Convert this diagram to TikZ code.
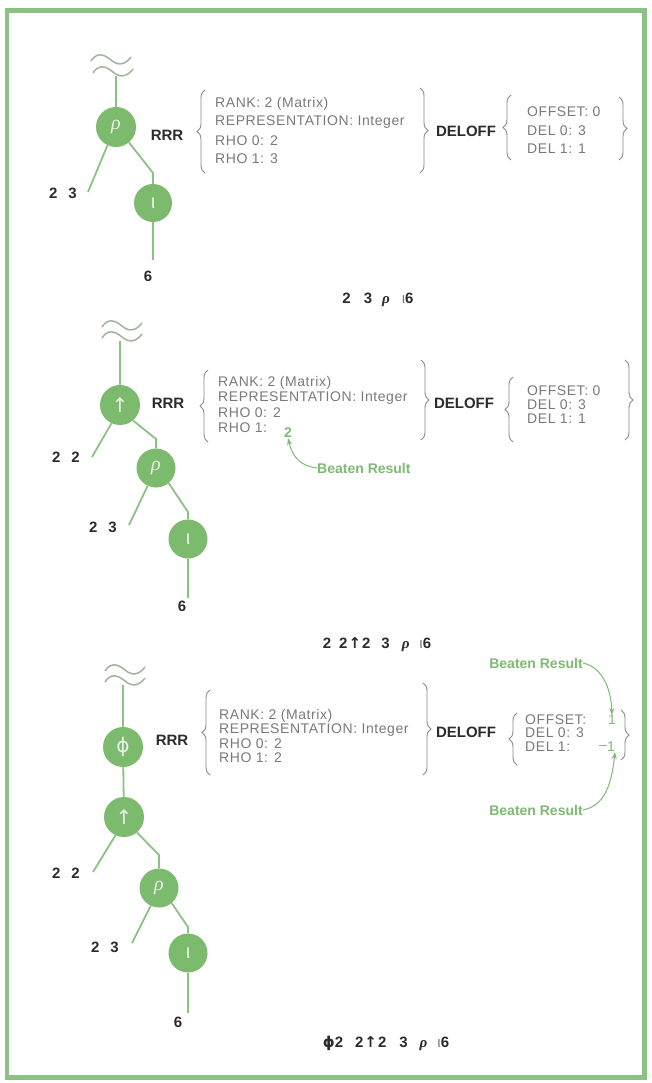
\documentclass[tikz,border=0pt]{standalone}
\usepackage{fontspec}
\setmainfont{Liberation Sans}
\newfontfamily\infofont[LetterSpace=4]{Liberation Sans}
\newfontfamily\symfont{DejaVu Sans}
\newfontfamily\serifit{Liberation Serif}
\usetikzlibrary{decorations.pathreplacing,arrows.meta,calc}
\definecolor{opgreen}{HTML}{7CBA6E}
\definecolor{lngreen}{HTML}{8CC283}
\definecolor{wavegray}{HTML}{A3B39C}
\definecolor{framegreen}{HTML}{8DC183}
\definecolor{beatgreen}{HTML}{7FBA73}
\definecolor{infogray}{HTML}{7A7A7A}
\definecolor{bracegray}{HTML}{8A8A8A}
\definecolor{darktext}{HTML}{2B2B2B}
\begin{document}
\begin{tikzpicture}[x=1pt,y=-1pt,
  op/.style={circle,fill=opgreen,minimum size=40pt,inner sep=0pt,text=white!82!opgreen,font=\fontsize{20}{20}\selectfont},
  link/.style={draw=lngreen,line width=1.8pt},
  lbl/.style={font=\bfseries\fontsize{15}{15}\selectfont,text=darktext,inner sep=0pt},
  info/.style={font=\infofont\fontsize{14}{14}\selectfont,text=infogray,anchor=west,inner sep=0pt},
  brc/.style={draw=bracegray,line width=0.9pt,decorate,decoration={brace,amplitude=8pt}},
  beat/.style={font=\bfseries\fontsize{14}{14}\selectfont,text=beatgreen,inner sep=0pt},
  beatval/.style={font=\fontsize{14}{14}\selectfont,text=beatgreen,inner sep=0pt},
  beatarrow/.style={draw=beatgreen,line width=1pt,-{Stealth[length=7pt,width=5pt]}},
  captxt/.style={font=\bfseries\fontsize{15}{15}\selectfont,text=darktext,inner sep=0pt},
  waves/.pic={\draw[draw=wavegray,line width=1.5pt] (0,0) .. controls (5,-8) and (12,-8) .. (20,-1) .. controls (27,5) and (34,4) .. (40,-4);}
]
\useasboundingbox (0,0) rectangle (651,1083);
\fill[white] (0,0) rectangle (651,1083);
\draw[framegreen,line width=4.5pt] (7,10.5) rectangle (644.5,1077.5);

% ---------------- Panel 1 ----------------
\pic at (91,61) {waves};
\pic at (93,73) {waves};
\coordinate (top1) at (116,76);
\node[op] (r1) at (116,127) {\serifit\itshape ρ};
\node[op,minimum size=38pt] (i1) at (153,203) {ι};
\coordinate (b1) at (153,173);
\coordinate (e1) at (88,192);
\coordinate (s1) at (153,260);
\draw[link] (top1) -- (r1);
\draw[link] (r1.-50) -- (b1) -- (i1);
\draw[link] (r1.-115) -- (e1);
\draw[link] (i1) -- (s1);
\node[lbl,anchor=east] (n1a) at (77,193) {2\hspace{11pt}3};
\node[lbl] (six1) at (148,276) {6};
\node[lbl] (rrr1) at (167,135) {RRR};
\draw[brc] (205,173) -- (205,90);
\node[info] (a1) at (215,104) {RANK: 2 (Matrix)};
\node[info] (a2) at (215,122) {REPRESENTATION: Integer};
\node[info] (a3) at (215,141) {RHO 0: 2};
\node[info] (a4) at (215,159) {RHO 1: 3};
\draw[brc] (420,88) -- (420,173);
\node[lbl] (del1) at (466,131) {DELOFF};
\draw[brc] (511,160) -- (511,95);
\node[info] (o1) at (527,112) {OFFSET: 0};
\node[info] (o2) at (527,131) {DEL 0: 3};
\node[info] (o3) at (527,149) {DEL 1: 1};
\draw[brc] (619,97) -- (619,160);
\node[captxt] (c1) at (378,300) {2\hspace{13pt}3\hspace{10pt}{\serifit\itshape ρ}\hspace{12pt}{\mdseries\color{infogray}ι}6};

% ---------------- Panel 2 ----------------
\pic at (102,327) {waves};
\pic at (102,338) {waves};
\coordinate (top2) at (120,341);
\node[op] (u2) at (120,405) {{\symfont ↑}};
\node[op,minimum size=39pt] (r2) at (156,468) {\serifit\itshape ρ};
\node[op,minimum size=39pt] (i2) at (188,539) {ι};
\coordinate (b2a) at (156,439);
\coordinate (b2b) at (188,512);
\coordinate (e2a) at (92,457);
\coordinate (e2b) at (129,525);
\coordinate (s2) at (188,598);
\draw[link] (top2) -- (u2);
\draw[link] (u2.-50) -- (b2a) -- (r2);
\draw[link] (r2.-50) -- (b2b) -- (i2);
\draw[link] (u2.-115) -- (e2a);
\draw[link] (r2.-115) -- (e2b);
\draw[link] (i2) -- (s2);
\node[lbl,anchor=east] (n2a) at (80,457) {2\hspace{11pt}2};
\node[lbl,anchor=east] (n2b) at (117,527) {2\hspace{11pt}3};
\node[lbl] (six2) at (182,606) {6};
\node[lbl] (rrr2) at (168,403) {RRR};
\draw[brc] (208,442) -- (208,370);
\node[info] (p1) at (218,383) {RANK: 2 (Matrix)};
\node[info] (p2) at (218,398) {REPRESENTATION: Integer};
\node[info] (p3) at (218,413) {RHO 0: 2};
\node[info] (p4) at (218,428) {RHO 1:};
\node[beatval] (g2) at (288,433) {\bfseries 2};
\draw[brc] (421,360) -- (421,440);
\node[lbl] (del2) at (464,403) {DELOFF};
\draw[brc] (513,442) -- (513,377);
\node[info] (q1) at (527,391) {OFFSET: 0};
\node[info] (q2) at (527,405) {DEL 0: 3};
\node[info] (q3) at (527,419) {DEL 1: 1};
\draw[brc] (625,360) -- (625,440);
\node[beat,anchor=west] (bt2) at (317,468) {Beaten Result};
\draw[beatarrow] (bt2.west) .. controls (302,466) and (293,459) .. (g2.south);
\node[captxt] (c2) at (377,645) {2\hspace{8pt}2\hspace{1pt}{\symfont\bfseries ↑}\hspace{1pt}2\hspace{11pt}3\hspace{12pt}{\serifit\itshape ρ}\hspace{10pt}{\mdseries\color{infogray}ι}6};

% ---------------- Panel 3 ----------------
\pic at (105,671) {waves};
\pic at (105,682) {waves};
\coordinate (top3) at (123,685);
\node[op] (p3c) at (123,747) {{\symfont ϕ}};
\node[op] (u3) at (124,817) {{\symfont ↑}};
\node[op,minimum size=39pt] (r3) at (159,888) {\serifit\itshape ρ};
\node[op,minimum size=39pt] (i3) at (188,953) {ι};
\coordinate (b3a) at (159,855);
\coordinate (b3b) at (188,927);
\coordinate (e3a) at (93,872);
\coordinate (e3b) at (132,943);
\coordinate (s3) at (188,1013);
\draw[link] (top3) -- (p3c);
\draw[link] (p3c) -- (u3);
\draw[link] (u3.-50) -- (b3a) -- (r3);
\draw[link] (r3.-50) -- (b3b) -- (i3);
\draw[link] (u3.-115) -- (e3a);
\draw[link] (r3.-115) -- (e3b);
\draw[link] (i3) -- (s3);
\node[lbl,anchor=east] (n3a) at (80,873) {2\hspace{11pt}2};
\node[lbl,anchor=east] (n3b) at (119,947) {2\hspace{11pt}3};
\node[lbl] (six3) at (178,1022) {6};
\node[lbl] (rrr3) at (172,740) {RRR};
\draw[brc] (210,775) -- (210,690);
\node[info] (t1) at (219,716) {RANK: 2 (Matrix)};
\node[info] (t2) at (219,730) {REPRESENTATION: Integer};
\node[info] (t3) at (219,744) {RHO 0: 2};
\node[info] (t4) at (219,758) {RHO 1: 2};
\draw[brc] (423,683) -- (423,775);
\node[lbl] (del3) at (466,732) {DELOFF};
\draw[brc] (517,765) -- (517,713);
\node[info] (w1) at (525,720) {OFFSET:};
\node[info] (w2) at (525,733) {DEL 0: 3};
\node[info] (w3) at (525,747) {DEL 1:};
\node[beatval] (g3a) at (612,720) {1};
\node[beatval] (g3b) at (607,747) {\raisebox{0.35ex}{–}1};
\draw[brc] (621,710) -- (621,760);
\node[beat] (bt3a) at (536,663) {Beaten Result};
\node[beat] (bt3b) at (536,810) {Beaten Result};
\draw[beatarrow] (bt3a.east) .. controls (602,667) and (611,688) .. (g3a.north);
\draw[beatarrow] (bt3b.east) .. controls (602,806) and (611,790) .. (g3b.south east);
\node[captxt] (c3) at (386,1043) {{\symfont ϕ}2\hspace{12pt}2\hspace{1pt}{\symfont\bfseries ↑}\hspace{1pt}2\hspace{13pt}3\hspace{12pt}{\serifit\itshape ρ}\hspace{10pt}{\mdseries\color{infogray}ι}6};
\end{tikzpicture}
\end{document}
